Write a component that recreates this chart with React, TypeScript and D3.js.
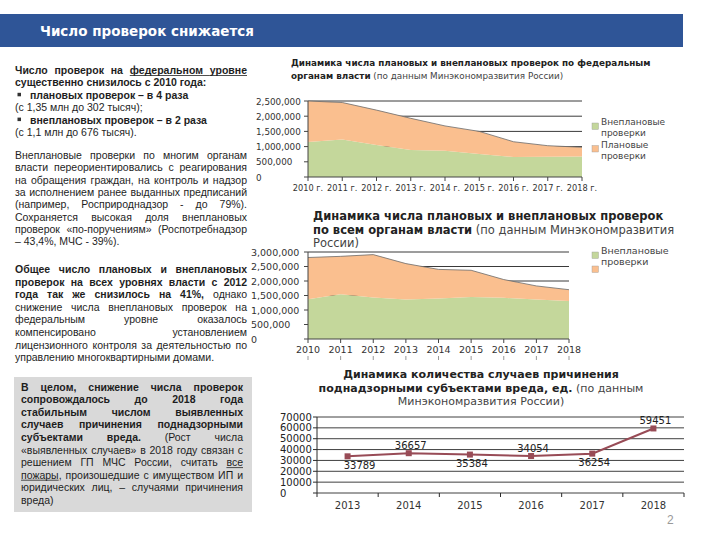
import * as d3 from 'd3';

const YEARS = ['2010', '2011', '2012', '2013', '2014', '2015', '2016', '2017', '2018'];
// federal bodies, checks per year
const FED_UNPLANNED = [1150000, 1230000, 1050000, 890000, 860000, 760000, 660000, 670000, 676000];
const FED_PLANNED = [1350000, 1220000, 1150000, 1040000, 820000, 740000, 500000, 360000, 302000];
// all levels of government
const ALL_UNPLANNED = [1370000, 1540000, 1430000, 1360000, 1400000, 1450000, 1420000, 1360000, 1310000];
const ALL_PLANNED = [1440000, 1310000, 1480000, 1240000, 1000000, 920000, 630000, 470000, 390000];
const FED_TICKS = [0, 500000, 1000000, 1500000, 2000000, 2500000];
const ALL_TICKS = [0, 500000, 1000000, 1500000, 2000000, 2500000, 3000000];

const HARM_YEARS = ['2013', '2014', '2015', '2016', '2017', '2018'];
const HARM_CASES = [33789, 36657, 35384, 34054, 36254, 59451];
const HARM_LABEL_SIDE = ['below', 'above', 'below', 'above', 'below', 'above'];
const HARM_TICKS = [0, 10000, 20000, 30000, 40000, 50000, 60000, 70000];

const LEGEND = [
    ['Внеплановые', 'проверки'],
    ['Плановые', 'проверки'],
];

const GREEN = '#C4D79B';
const ORANGE = '#FABF8F';
const LINE_COLOR = '#984B56';
const CHART_FONT = '"DejaVu Sans", Verdana, sans-serif';
const TEXT_FONT = '"Liberation Sans", Arial, sans-serif';

// * toggles bold, _ toggles underline
const PARA_FED = [
    { src: '*Число проверок на _федеральном уровне_*', j: true },
    { src: '*существенно снизилось с 2010 года:*', j: false },
    { src: '*плановых проверок – в 4 раза*', j: false, bullet: true },
    { src: '(с 1,35 млн до 302 тысяч);', j: false },
    { src: '*внеплановых проверок – в 2 раза*', j: false, bullet: true },
    { src: '(с 1,1 млн до 676 тысяч).', j: false },
];
const PARA_UNPLANNED = [
    { src: 'Внеплановые проверки по многим органам', j: true },
    { src: 'власти переориентировались с реагирования', j: true },
    { src: 'на обращения граждан, на контроль и надзор', j: true },
    { src: 'за исполнением ранее выданных предписаний', j: true },
    { src: '(например, Росприроднадзор - до 79%).', j: true },
    { src: 'Сохраняется высокая доля внеплановых', j: true },
    { src: 'проверок «по-поручениям» (Роспотребнадзор', j: true },
    { src: '– 43,4%, МЧС - 39%).', j: false },
];
const PARA_TOTAL = [
    { src: '*Общее число плановых и внеплановых*', j: true },
    { src: '*проверок на всех уровнях власти с 2012*', j: true },
    { src: '*года так же снизилось на 41%,* однако', j: true },
    { src: 'снижение числа внеплановых проверок на', j: true },
    { src: 'федеральным уровне оказалось', j: true },
    { src: 'компенсировано установлением', j: true },
    { src: 'лицензионного контроля за деятельностью по', j: true },
    { src: 'управлению многоквартирными домами.', j: false },
];
const PARA_BOX = [
    { src: '*В целом, снижение числа проверок*', j: true },
    { src: '*сопровождалось до 2018 года*', j: true },
    { src: '*стабильным числом выявленных*', j: true },
    { src: '*случаев причинения поднадзорными*', j: true },
    { src: '*субъектами вреда.* (Рост числа', j: true },
    { src: '«выявленных случаев» в 2018 году связан с', j: true },
    { src: 'решением ГП МЧС России, считать _все_', j: true },
    { src: '_пожары_, произошедшие с имуществом ИП и', j: true },
    { src: 'юридических лиц, – случаями причинения', j: true },
    { src: 'вреда)', j: false },
];

const ctx = document.createElement('canvas').getContext('2d')!;
function textWidth(t: string, bold: boolean, size: number) {
    ctx.font = `${bold ? 'bold ' : ''}${size}px "Liberation Sans"`;
    return ctx.measureText(t).width;
}

type Run = { t: string; b: boolean; u: boolean };
type Word = { runs: Run[]; uGap: boolean };

function parse(src: string): Word[] {
    const words: Word[] = [];
    let b = false;
    let u = false;
    let cur: Run[] = [];
    let buf = '';
    const flush = () => {
        if (buf) cur.push({ t: buf, b, u });
        buf = '';
    };
    const endWord = () => {
        flush();
        if (cur.length) words.push({ runs: cur, uGap: u });
        cur = [];
    };
    for (const ch of src) {
        if (ch === '*') {
            flush();
            b = !b;
        } else if (ch === '_') {
            flush();
            u = !u;
        } else if (ch === ' ') endWord();
        else buf += ch;
    }
    endWord();
    return words;
}

function TextLine(props: { src: string; x: number; w: number; y: number; justify: boolean; size: number }) {
    const { src, x, w, y, justify, size } = props;
    const words = parse(src);
    const widths = words.map((wd) => d3.sum(wd.runs, (r) => textWidth(r.t, r.b, size)));
    const total = d3.sum(widths);
    const space = textWidth(' ', false, size);
    const gap = justify && words.length > 1 ? (w - total) / (words.length - 1) : space;
    const unders: [number, number][] = [];
    let cx = x;
    const texts = words.map((wd, i) => {
        const start = cx;
        let rx = cx;
        wd.runs.forEach((r) => {
            const rw = textWidth(r.t, r.b, size);
            if (r.u) unders.push([rx, rx + rw]);
            rx += rw;
        });
        if (wd.uGap && i < words.length - 1) unders.push([rx, rx + gap]);
        cx += widths[i] + gap;
        return (
            <text key={i} x={start} y={y}>
                {wd.runs.map((r, k) => (
                    <tspan key={k} fontWeight={r.b ? 'bold' : 'normal'}>
                        {r.t}
                    </tspan>
                ))}
            </text>
        );
    });
    return (
        <g>
            {texts}
            {unders.map(([a, bEnd], i) => (
                <line key={i} x1={a} x2={bEnd} y1={y + 1.5} y2={y + 1.5} stroke="#222" strokeWidth={0.8} />
            ))}
        </g>
    );
}

function Paragraph(props: {
    lines: { src: string; j: boolean; bullet?: boolean }[];
    x: number;
    right: number;
    y: number;
    step: number;
    size: number;
}) {
    const { lines, x, right, y, step, size } = props;
    return (
        <g fontFamily={TEXT_FONT} fontSize={size} fill="#1e1e1e">
            {lines.map((ln, i) => {
                const by = y + i * step;
                const lx = ln.bullet ? x + 15 : x;
                return (
                    <g key={i}>
                        {ln.bullet && <rect x={x + 2.5} y={by - 6} width={3.5} height={3.5} fill="#333" />}
                        <TextLine src={ln.src} x={lx} w={right - lx} y={by} justify={ln.j} size={size} />
                    </g>
                );
            })}
        </g>
    );
}

function StackChart(props: {
    unplanned: number[];
    planned: number[];
    ticks: number[];
    x0: number;
    x1: number;
    yTop: number;
    yBottom: number;
    labelX: number;
    fontSize: number;
    xFontSize: number;
    suffix: string;
    xLabelY: number;
}) {
    const { unplanned, planned, ticks, x0, x1, yTop, yBottom, labelX, fontSize, xFontSize, suffix, xLabelY } = props;
    const x = d3.scalePoint<string>().domain(YEARS).range([x0, x1]);
    const y = d3
        .scaleLinear()
        .domain([0, d3.max(ticks)!])
        .range([yBottom, yTop]);
    const rows = YEARS.map((yr, i) => ({ year: yr, unplanned: unplanned[i], planned: planned[i] }));
    const series = d3.stack<any>().keys(['unplanned', 'planned'])(rows);
    const area = d3
        .area<any>()
        .x((d) => x(d.data.year)!)
        .y0((d) => y(d[0]))
        .y1((d) => y(d[1]));
    const top = d3
        .line<any>()
        .x((d) => x(d.data.year)!)
        .y((d) => y(d[1]));
    return (
        <g fontFamily={CHART_FONT} fontSize={fontSize} fill="#333">
            {ticks
                .filter((t) => t > 0)
                .map((t) => (
                    <line key={t} x1={x0} x2={x1} y1={y(t)} y2={y(t)} stroke="#3a3a3a" strokeWidth={1} />
                ))}
            <path d={area(series[0])!} fill={GREEN} />
            <path d={area(series[1])!} fill={ORANGE} />
            <path d={top(series[1])!} fill="none" stroke="#6b6b6b" strokeWidth={0.8} />
            <line x1={x0} x2={x0} y1={yTop} y2={yBottom} stroke="#444" />
            <line x1={x0} x2={x1} y1={yBottom} y2={yBottom} stroke="#444" />
            {ticks.map((t) => (
                <g key={t}>
                    <line x1={x0 - 4} x2={x0} y1={y(t)} y2={y(t)} stroke="#444" />
                    <text x={labelX} y={y(t) + 3.5}>
                        {t === 0 ? '0' : d3.format(',')(t)}
                    </text>
                </g>
            ))}
            {YEARS.map((yr) => (
                <g key={yr}>
                    <line x1={x(yr)} x2={x(yr)} y1={yBottom} y2={yBottom + 4} stroke="#444" />
                    <text x={x(yr)} y={xLabelY} textAnchor="middle" fontSize={xFontSize}>
                        {yr + suffix}
                    </text>
                </g>
            ))}
        </g>
    );
}

function Legend(props: { x: number; y: number; step: number; line: number; size: number; labels: string[][] }) {
    const { x, y, step, line, size, labels } = props;
    const colors = [GREEN, ORANGE];
    return (
        <g fontFamily={CHART_FONT} fontSize={size} fill="#444">
            {labels.map((lab, i) => (
                <g key={i}>
                    <rect x={x} y={y + i * step - 2} width={6.5} height={6.5} fill={colors[i]} stroke="#9a9a9a" strokeWidth={0.4} />
                    {lab.map((s, k) => (
                        <text key={k} x={x + 9} y={y + i * step + k * line}>
                            {s}
                        </text>
                    ))}
                </g>
            ))}
        </g>
    );
}

function HarmChart() {
    const x = d3.scaleBand<string>().domain(HARM_YEARS).range([317, 684]);
    const y = d3.scaleLinear().domain([0, 70000]).range([493, 417]);
    const cx = (yr: string) => x(yr)! + x.bandwidth() / 2;
    const line = d3
        .line<number>()
        .x((_, i) => cx(HARM_YEARS[i]))
        .y((d) => y(d));
    return (
        <g fontFamily={CHART_FONT} fill="#222">
            <g fontSize={11} textAnchor="middle">
                <text x={481} y={378} fontWeight="bold">
                    Динамика количества случаев причинения
                </text>
                <text x={481} y={392}>
                    <tspan fontWeight="bold">поднадзорными субъектами вреда, ед.</tspan>
                    <tspan fill="#444"> (по данным</tspan>
                </text>
                <text x={481} y={405} fill="#444">
                    Минэкономразвития России)
                </text>
            </g>
            {HARM_TICKS.map((t) => (
                <g key={t}>
                    <line x1={317} x2={684} y1={y(t)} y2={y(t)} stroke="#2a2a2a" strokeWidth={0.9} />
                    <line x1={313} x2={317} y1={y(t)} y2={y(t)} stroke="#2a2a2a" />
                    <text x={280} y={y(t) + 3.5} fontSize={10}>
                        {t}
                    </text>
                </g>
            ))}
            <line x1={317} x2={317} y1={y(70000)} y2={y(0)} stroke="#2a2a2a" />
            {[...HARM_YEARS.map((yr) => x(yr)!), 684].map((bx, i) => (
                <line key={i} x1={bx} x2={bx} y1={y(0)} y2={y(0) + 4} stroke="#2a2a2a" />
            ))}
            {HARM_YEARS.map((yr) => (
                <text key={yr} x={cx(yr)} y={509} fontSize={10} textAnchor="middle" fill="#333">
                    {yr}
                </text>
            ))}
            <path d={line(HARM_CASES)!} fill="none" stroke={LINE_COLOR} strokeWidth={2} />
            {HARM_CASES.map((v, i) => (
                <rect key={i} x={cx(HARM_YEARS[i]) - 3} y={y(v) - 3} width={6} height={6} fill={LINE_COLOR} />
            ))}
            {HARM_CASES.map((v, i) => (
                <text
                    key={i}
                    x={cx(HARM_YEARS[i]) + (i === 0 ? 12 : 2)}
                    y={HARM_LABEL_SIDE[i] === 'above' ? y(v) - 4.5 : y(v) + 12.5}
                    fontSize={10}
                    textAnchor="middle"
                >
                    {v}
                </text>
            ))}
        </g>
    );
}

export default function App() {
    const x2 = d3.scalePoint<string>().domain(YEARS).range([308, 569]);
    return (
        <svg width={720} height={540} style={{ position: 'absolute', left: 0, top: 0, background: '#fff' }}>
            <rect x={0} y={14} width={683} height={33} fill="#2F5597" />
            <text x={40} y={36} fill="#fff" fontFamily={CHART_FONT} fontWeight="bold" fontSize={13.5}>
                Число проверок снижается
            </text>

            <Paragraph lines={PARA_FED} x={15} right={247} y={74} step={12.4} size={10.5} />
            <Paragraph lines={PARA_UNPLANNED} x={15} right={247} y={159} step={12.3} size={10.5} />
            <Paragraph lines={PARA_TOTAL} x={15} right={247} y={273} step={12.6} size={10.5} />

            <rect x={14} y={377} width={238} height={135} fill="#D9D9D9" />
            <Paragraph lines={PARA_BOX} x={21} right={243} y={390.5} step={12.6} size={10.5} />

            {/* federal bodies */}
            <g fontFamily={CHART_FONT} fontSize={8.8} fill="#222">
                <text x={291} y={65.5} fontWeight="bold">
                    Динамика числа плановых и внеплановых проверок по федеральным
                </text>
                <text x={291} y={78.5}>
                    <tspan fontWeight="bold">органам власти</tspan>
                    <tspan fill="#444"> (по данным Минэкономразвития России)</tspan>
                </text>
            </g>
            <StackChart
                unplanned={FED_UNPLANNED}
                planned={FED_PLANNED}
                ticks={FED_TICKS}
                x0={308}
                x1={582}
                yTop={101}
                yBottom={177}
                labelX={256}
                fontSize={8.8}
                xFontSize={8.2}
                suffix=" г."
                xLabelY={190.5}
            />
            <Legend x={592} y={125} step={22.5} line={11} size={9} labels={LEGEND} />

            {/* all levels */}
            <g fontFamily={CHART_FONT} fontSize={11.5} fill="#222">
                <text x={313} y={220} fontWeight="bold">
                    Динамика числа плановых и внеплановых проверок
                </text>
                <text x={313} y={234}>
                    <tspan fontWeight="bold">по всем органам власти</tspan>
                    <tspan fill="#444">{'  (по данным Минэкономразвития'}</tspan>
                </text>
                <text x={313} y={247} fill="#444">
                    России)
                </text>
            </g>
            <StackChart
                unplanned={ALL_UNPLANNED}
                planned={ALL_PLANNED}
                ticks={ALL_TICKS}
                x0={308}
                x1={569}
                yTop={252}
                yBottom={339}
                labelX={251}
                fontSize={9.5}
                xFontSize={9.5}
                suffix=""
                xLabelY={352.5}
            />
            {YEARS.map((yr) => (
                <line key={yr} x1={x2(yr)} x2={x2(yr)} y1={356} y2={360} stroke="#999" />
            ))}
            <Legend x={592} y={254} step={14} line={11} size={9.5} labels={[['Внеплановые', 'проверки'], []]} />

            <HarmChart />

            <text x={667} y={524} fontFamily={TEXT_FONT} fontSize={12} fill="#999">
                2
            </text>
        </svg>
    );
}
